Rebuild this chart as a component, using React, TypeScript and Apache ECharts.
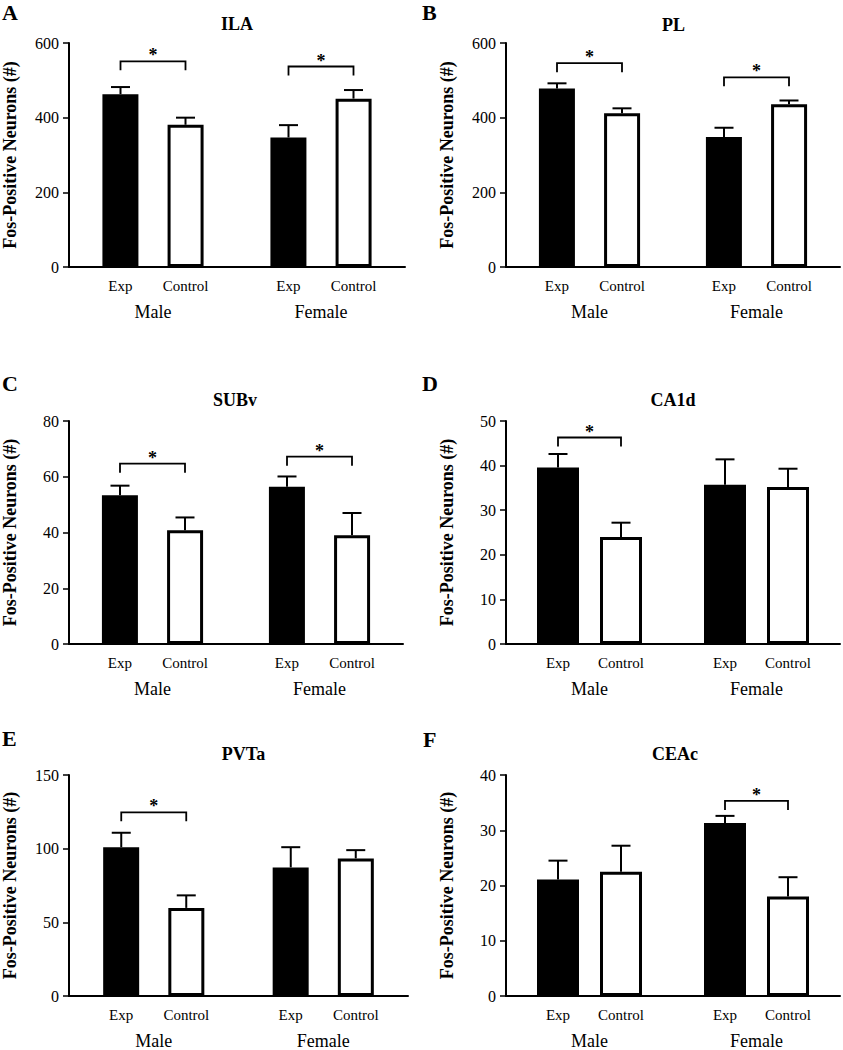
import React, { useEffect, useRef } from "react";
import * as echarts from "echarts";

// ---------- data ----------
const groups = ["Male", "Female"];
const conditions = ["Exp", "Control"];
const panelLetters = ["A", "B", "C", "D", "E", "F"];
const regionNames = ["ILA", "PL", "SUBv", "CA1d", "PVTa", "CEAc"];
const yAxisName = "Fos-Positive Neurons (#)";
const yMaxes = [600, 600, 80, 50, 150, 40];
const yIntervals = [200, 200, 20, 10, 50, 10];

// mean and SEM per group [Male, Female]
const ilaExp = [463, 347];
const ilaExpErr = [19, 33];
const ilaControl = [381, 451];
const ilaControlErr = [19, 23];
const ilaBrackets = [551, 537];

const plExp = [478, 348];
const plExpErr = [14, 25];
const plControl = [412, 436];
const plControlErr = [13, 10];
const plBrackets = [546, 508];

const subvExp = [53.4, 56.4];
const subvExpErr = [3.4, 3.7];
const subvControl = [40.8, 39.0];
const subvControlErr = [4.6, 8.0];
const subvBrackets = [64.7, 67.2];

const ca1dExp = [39.6, 35.7];
const ca1dExpErr = [3.0, 5.7];
const ca1dControl = [24.0, 35.2];
const ca1dControlErr = [3.2, 4.1];
const ca1dBrackets = [46.3, null];

const pvtaExp = [101, 87.3];
const pvtaExpErr = [9.8, 13.7];
const pvtaControl = [59.8, 93.4];
const pvtaControlErr = [8.5, 5.6];
const pvtaBrackets = [124.7, null];

const ceacExp = [21.1, 31.3];
const ceacExpErr = [3.4, 1.3];
const ceacControl = [22.5, 18.0];
const ceacControlErr = [4.7, 3.5];
const ceacBrackets = [null, 35.3];

const expValues = [ilaExp, plExp, subvExp, ca1dExp, pvtaExp, ceacExp];
const expErrors = [ilaExpErr, plExpErr, subvExpErr, ca1dExpErr, pvtaExpErr, ceacExpErr];
const controlValues = [ilaControl, plControl, subvControl, ca1dControl, pvtaControl, ceacControl];
const controlErrors = [ilaControlErr, plControlErr, subvControlErr, ca1dControlErr, pvtaControlErr, ceacControlErr];
const bracketLevels = [ilaBrackets, plBrackets, subvBrackets, ca1dBrackets, pvtaBrackets, ceacBrackets];

// ---------- layout ----------
const FONT = '"Liberation Serif", "Times New Roman", Times, serif';
const grids = [
  { left: 69, top: 43, width: 336, height: 224 },
  { left: 506, top: 43, width: 334, height: 224 },
  { left: 68, top: 421, width: 335, height: 223 },
  { left: 506, top: 421, width: 334, height: 223 },
  { left: 69, top: 775, width: 339, height: 223 },
  { left: 506, top: 775, width: 334, height: 223 },
];
// inner bar width and centre-to-centre spacing of Exp/Control bars
const barWidths = [36, 36, 36, 42, 36, 42];
const barSpacings = [65, 65, 65, 63, 65, 63];
const letterPos = [
  [2, 12.5], [422, 12.5], [2, 383.5], [422, 383.5], [2, 738.5], [423, 739.5],
];
const titlePos = [
  [237, 24], [673.5, 24.5], [235, 400], [673, 400], [243.5, 753.5], [675, 753.5],
];

function buildOption() {
  const grid: any[] = [];
  const xAxis: any[] = [];
  const yAxis: any[] = [];
  const series: any[] = [];
  const graphic: any[] = [];

  for (let i = 0; i < 6; i++) {
    const g = grids[i];
    grid.push({ left: g.left, top: g.top, width: g.width, height: g.height, containLabel: false });
    xAxis.push({
      gridIndex: i,
      type: "category",
      data: groups,
      axisLine: { show: true, lineStyle: { color: "#000", width: 2 } },
      axisTick: { show: false },
      axisLabel: { color: "#000", fontSize: 18, fontFamily: FONT, margin: 36 },
      splitLine: { show: false },
    });
    yAxis.push({
      gridIndex: i,
      type: "value",
      min: 0,
      max: yMaxes[i],
      interval: yIntervals[i],
      name: yAxisName,
      nameLocation: "middle",
      nameGap: 50,
      nameTextStyle: { color: "#000", fontSize: 18, fontWeight: "bold", fontFamily: FONT },
      axisLine: { show: true, lineStyle: { color: "#000", width: 2 } },
      axisTick: { show: true, length: 6, lineStyle: { color: "#000", width: 1.5 } },
      axisLabel: { color: "#000", fontSize: 16, fontFamily: FONT, margin: 10 },
      splitLine: { show: false },
    });

    const bw = barWidths[i];
    const gapPct = Math.round(((barSpacings[i] - bw) / bw) * 100) + "%";
    const half = barSpacings[i] / 2;

    const valueSets = [expValues[i], controlValues[i]];
    const errSets = [expErrors[i], controlErrors[i]];
    conditions.forEach((cond, ci) => {
      series.push({
        type: "bar",
        name: cond,
        xAxisIndex: i,
        yAxisIndex: i,
        data: valueSets[ci],
        barWidth: bw,
        barGap: gapPct,
        itemStyle: {
          color: ci === 0 ? "#000" : "#fff",
          borderColor: "#000",
          borderWidth: 3,
        },
        label: {
          show: true,
          position: "bottom",
          distance: 11,
          formatter: cond,
          color: "#000",
          fontSize: 15,
          fontFamily: FONT,
        },
        emphasis: { disabled: true },
        silent: true,
      });
    });

    // error bars
    const errData: any[] = [];
    for (let ci = 0; ci < 2; ci++) {
      for (let gi = 0; gi < groups.length; gi++) {
        errData.push([gi, valueSets[ci][gi], errSets[ci][gi], ci === 0 ? -1 : 1]);
      }
    }
    series.push({
      type: "custom",
      xAxisIndex: i,
      yAxisIndex: i,
      data: errData,
      clip: false,
      silent: true,
      z: 5,
      renderItem: (params: any, api: any) => {
        const gi = api.value(0);
        const v = api.value(1);
        const e = api.value(2);
        const side = api.value(3);
        const p0 = api.coord([gi, v]);
        const p1 = api.coord([gi, v + e]);
        const x = p0[0] + side * half;
        const style = { stroke: "#000", lineWidth: 2 };
        return {
          type: "group",
          children: [
            { type: "line", shape: { x1: x, y1: p0[1], x2: x, y2: p1[1] }, style },
            { type: "line", shape: { x1: x - 9.5, y1: p1[1], x2: x + 9.5, y2: p1[1] }, style },
          ],
        };
      },
    });

    // significance brackets
    const brData: any[] = [];
    bracketLevels[i].forEach((lv, gi) => {
      if (lv !== null && lv !== undefined) brData.push([gi, lv]);
    });
    series.push({
      type: "custom",
      xAxisIndex: i,
      yAxisIndex: i,
      data: brData,
      clip: false,
      silent: true,
      z: 5,
      renderItem: (params: any, api: any) => {
        const gi = api.value(0);
        const lv = api.value(1);
        const p = api.coord([gi, lv]);
        const xl = p[0] - half;
        const xr = p[0] + half;
        const y = p[1];
        return {
          type: "group",
          children: [
            {
              type: "polyline",
              shape: { points: [[xl, y + 9], [xl, y], [xr, y], [xr, y + 9]] },
              style: { stroke: "#000", lineWidth: 1.8, fill: null },
            },
            {
              type: "text",
              x: p[0],
              y: y - 6,
              style: {
                text: "*",
                fill: "#000",
                font: `bold 18px ${FONT}`,
                textAlign: "center",
                textVerticalAlign: "middle",
              },
            },
          ],
        };
      },
    });

    graphic.push({
      type: "text",
      x: letterPos[i][0],
      y: letterPos[i][1],
      style: {
        text: panelLetters[i],
        fill: "#000",
        font: `bold 22px ${FONT}`,
        textAlign: "left",
        textVerticalAlign: "middle",
      },
    });
    graphic.push({
      type: "text",
      x: titlePos[i][0],
      y: titlePos[i][1],
      style: {
        text: regionNames[i],
        fill: "#000",
        font: `bold 18px ${FONT}`,
        textAlign: "center",
        textVerticalAlign: "middle",
      },
    });
  }

  return {
    animation: false,
    backgroundColor: "#fff",
    grid,
    xAxis,
    yAxis,
    series,
    graphic,
  };
}

export default function App() {
  const ref = useRef<HTMLDivElement>(null);
  useEffect(() => {
    if (!ref.current) return;
    const chart = echarts.init(ref.current, undefined, { renderer: "svg" });
    chart.setOption(buildOption() as any);
    return () => chart.dispose();
  }, []);
  return (
    <div
      ref={ref}
      style={{ position: "absolute", left: 0, top: 0, width: 843, height: 1050, background: "#fff" }}
    />
  );
}
